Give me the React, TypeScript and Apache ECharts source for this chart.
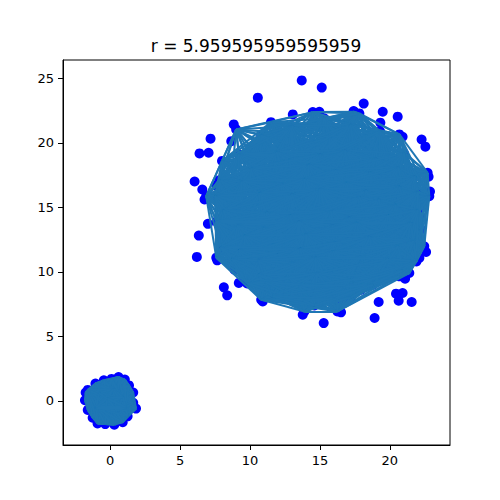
import React, { useEffect, useRef } from "react";
import * as echarts from "echarts";

const R = 5.959595959595959;
const TITLE = "r = 5.959595959595959";
const X_TICKS = [0, 5, 10, 15, 20];
const Y_TICKS = [0, 5, 10, 15, 20, 25];

// small cluster nodes (graph vertices)
const smallNodes: [number, number][] = [
  [-1.75, 0.65], [-1.8, 0.05], [-1.6, -0.7], [-1.25, -1.3], [-0.9, -1.75],
  [-0.35, -1.8], [0.3, -1.85], [0.9, -1.65], [1.25, -1.2], [1.85, -0.6],
  [1.65, -0.15], [1.65, 0.65], [1.35, 1.2], [1.05, 1.65], [0.6, 1.85],
  [0.1, 1.7], [-0.45, 1.6], [-1.05, 1.35], [-1.6, 0.85],
  [-0.8, 0.6], [0.2, 0.9], [0.9, 0.3], [-0.3, -0.4], [0.5, -0.8],
  [-1.0, -0.5], [1.1, -0.5], [-0.2, 0.2],
];

// big cluster: outline vertices of the edge mesh
const bigHull: [number, number][] = [
  [9.01, 21.04], [14.49, 22.38], [17.46, 22.41], [17.82, 22.28], [20.68, 20.65],
  [22.7, 17.68], [22.82, 15.86], [22.23, 13.28], [22.46, 11.98], [21.39, 9.91],
  [20.68, 9.65], [17.94, 8.62], [16.25, 6.93], [13.89, 6.93], [10.8, 7.84],
  [8.89, 10.17], [7.59, 11.1], [6.87, 15.86], [8.0, 18.6],
];

// big cluster: inner vertices (hidden under the edges)
const bigInner: [number, number][] = [
  [10.2, 19.5], [12.1, 20.8], [14.3, 19.9], [16.2, 21.1], [18.4, 20.2], [20.1, 18.9],
  [11.0, 17.4], [13.2, 18.1], [15.4, 17.6], [17.5, 18.3], [19.6, 16.8], [21.2, 15.1],
  [8.6, 16.2], [9.9, 14.8], [12.0, 15.6], [14.1, 15.0], [16.3, 15.7], [18.2, 14.6],
  [20.3, 13.4], [8.4, 13.1], [10.5, 12.4], [12.7, 13.2], [14.9, 12.5], [17.0, 13.1],
  [19.1, 11.8], [21.0, 11.3], [9.6, 10.2], [11.8, 10.4], [13.9, 9.8], [16.0, 10.6],
  [18.3, 9.9], [12.4, 8.4], [15.1, 8.2], [17.2, 8.0], [19.8, 10.3], [11.5, 21.6],
  [15.3, 21.9],
  [10.8, 20.6], [13.0, 21.3], [15.7, 20.4], [17.2, 21.4], [19.3, 20.9],
  [9.2, 19.1], [11.9, 19.3], [12.8, 18.7], [15.0, 19.1], [16.8, 19.4], [19.0, 18.8], [21.0, 19.2],
  [10.1, 18.0], [14.2, 18.3], [16.1, 17.9], [18.6, 17.7], [20.6, 18.1], [21.8, 17.4],
  [7.8, 17.1], [9.4, 17.0], [12.3, 16.8], [13.9, 17.2], [16.9, 16.9], [18.3, 16.3], [20.7, 16.6], [22.0, 16.2],
  [7.5, 15.9], [10.7, 16.1], [13.0, 16.0], [15.0, 16.4], [17.8, 15.8], [19.2, 15.6], [20.4, 15.2],
  [8.1, 14.8], [11.2, 14.6], [12.9, 14.4], [15.8, 14.7], [17.1, 14.2], [19.9, 14.4], [22.0, 14.8],
  [7.6, 13.9], [9.1, 13.6], [11.0, 13.4], [13.5, 13.9], [15.9, 13.6], [17.6, 13.8], [19.4, 13.1], [21.5, 13.8],
  [9.6, 12.8], [11.6, 12.1], [14.0, 12.9], [16.1, 12.3], [18.6, 12.7], [21.7, 12.4],
  [7.9, 11.9], [9.2, 11.7], [12.0, 11.4], [13.6, 11.8], [16.0, 11.6], [17.9, 11.2], [20.6, 12.0],
  [8.7, 11.0], [10.6, 10.9], [13.0, 10.7], [14.7, 11.1], [17.6, 10.5], [19.9, 11.0], [21.9, 10.8],
  [10.6, 9.8], [12.8, 9.5], [14.8, 9.9], [17.2, 9.4], [19.2, 9.6], [20.9, 10.1],
  [9.8, 9.1], [11.1, 9.2], [13.5, 8.9], [16.6, 8.8], [18.8, 9.0],
  [11.6, 8.1], [13.8, 7.8], [16.2, 7.9], [14.6, 7.4],
];

// scattered points outside the edge mesh
const outerPoints: [number, number][] = [
  [13.70, 24.84], [15.13, 24.28], [10.56, 23.50], [18.13, 23.04], [19.49, 22.41],
  [20.56, 22.03], [8.84, 21.43], [7.18, 20.32], [6.39, 19.18], [7.04, 19.23],
  [22.27, 20.26], [22.54, 19.70], [6.04, 17.00], [6.59, 16.38], [22.77, 17.37],
  [22.87, 16.23], [13.06, 22.20], [14.96, 22.41], [17.41, 22.46], [19.32, 21.56],
  [20.91, 20.47], [8.66, 20.13], [7.59, 16.69], [6.75, 15.61], [6.99, 13.72],
  [6.34, 12.81], [6.20, 11.16], [7.66, 10.89], [8.13, 8.80], [8.37, 8.18],
  [9.20, 9.14], [10.91, 7.71], [13.77, 6.68], [15.27, 6.03], [16.51, 6.86],
  [16.63, 7.84], [18.91, 6.42], [19.20, 7.66], [20.44, 8.31], [20.91, 8.36],
  [20.63, 7.76], [21.56, 7.66], [21.09, 9.47], [22.59, 11.54], [22.11, 11.08],
  [22.11, 14.31],
];

function buildEdges(nodes: [number, number][]) {
  const out: { coords: [number, number][] }[] = [];
  for (let i = 0; i < nodes.length; i++) {
    for (let j = i + 1; j < nodes.length; j++) {
      const dx = nodes[i][0] - nodes[j][0];
      const dy = nodes[i][1] - nodes[j][1];
      if (Math.sqrt(dx * dx + dy * dy) <= R) {
        out.push({ coords: [nodes[i], nodes[j]] });
      }
    }
  }
  return out;
}

export default function App() {
  const ref = useRef<HTMLDivElement>(null);
  useEffect(() => {
    if (!ref.current) return;
    const chart = echarts.init(ref.current, null, { renderer: "svg" });
    const bigNodes = [...bigHull, ...bigInner];
    const edges = [...buildEdges(smallNodes), ...buildEdges(bigNodes)];
    const allPoints = [...smallNodes, ...bigNodes, ...outerPoints];
    const font = "DejaVu Sans";
    chart.setOption({
      animation: false,
      backgroundColor: "#fff",
      title: {
        text: TITLE,
        left: 256,
        top: 37,
        textAlign: "center",
        padding: 0,
        textStyle: { fontSize: 17, fontWeight: "normal", color: "#000", fontFamily: font },
      },
      grid: {
        left: 63,
        right: 50,
        top: 60,
        bottom: 55,
        show: true,
        borderColor: "#000",
        borderWidth: 1,
        backgroundColor: "transparent",
      },
      xAxis: {
        type: "value",
        min: -3.37,
        max: 24.3,
        splitLine: { show: false },
        axisLine: { show: true, onZero: false, lineStyle: { color: "#000", width: 1 } },
        axisTick: { show: true, length: 5, inside: false, customValues: X_TICKS, lineStyle: { color: "#000" } },
        axisLabel: { customValues: X_TICKS, margin: 9, fontSize: 13, color: "#000", fontFamily: font },
      },
      yAxis: {
        type: "value",
        min: -3.42,
        max: 26.42,
        splitLine: { show: false },
        axisLine: { show: true, onZero: false, lineStyle: { color: "#000", width: 1 } },
        axisTick: { show: true, length: 5, inside: false, customValues: Y_TICKS, lineStyle: { color: "#000" } },
        axisLabel: { customValues: Y_TICKS, margin: 9, fontSize: 13, color: "#000", fontFamily: font },
      },
      series: [
        {
          type: "scatter",
          data: allPoints,
          symbol: "circle",
          symbolSize: 10,
          itemStyle: { color: "#0000ff", opacity: 1 },
          z: 2,
          silent: true,
        },
        {
          type: "lines",
          coordinateSystem: "cartesian2d",
          data: edges,
          lineStyle: { color: "#1f77b4", width: 2, opacity: 1, curveness: 0 },
          z: 3,
          silent: true,
        },
      ],
    });
    return () => chart.dispose();
  }, []);
  return (
    <div
      ref={ref}
      style={{ position: "absolute", left: 0, top: 0, width: 500, height: 500 }}
    />
  );
}
